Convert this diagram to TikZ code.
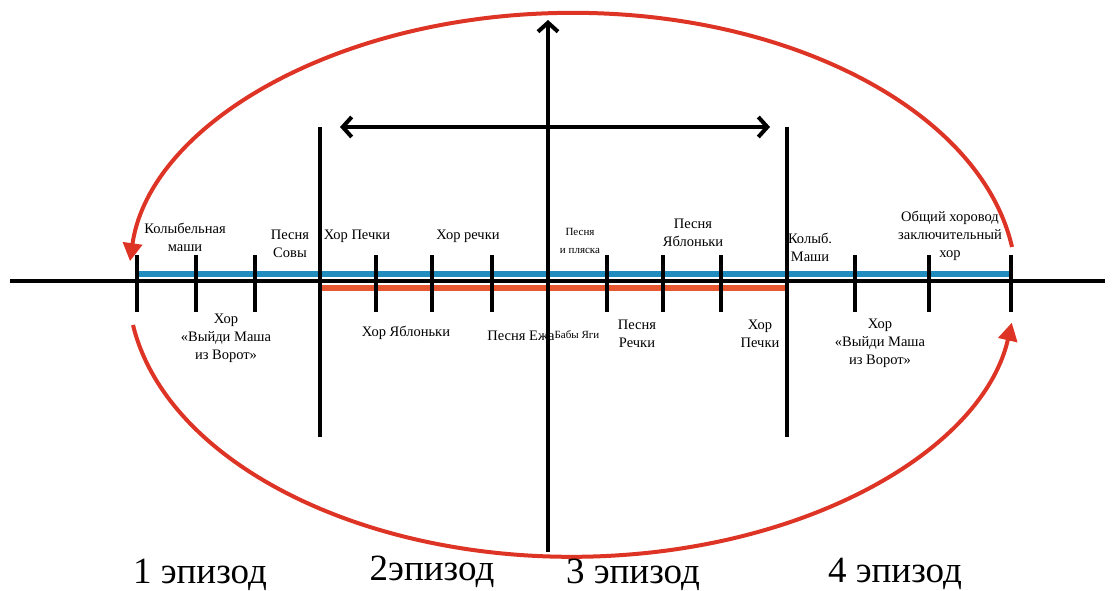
\documentclass[tikz,border=0pt]{standalone}
\usepackage{fontspec}
\setmainfont{Liberation Serif}
\usetikzlibrary{arrows.meta}
\definecolor{ered}{RGB}{222,52,38}
\definecolor{eblue}{RGB}{35,140,190}
\definecolor{eorange}{RGB}{232,88,48}
\begin{document}
\begin{tikzpicture}[x=1pt,y=-1pt,
  axisline/.style={line width=4pt,black},
  tickline/.style={line width=4.5pt,black},
  cyc/.style={line width=4pt,ered,-{Triangle[length=18pt,width=19pt]}},
  barb/.style={-{Straight Barb[length=9pt,width=20pt]}},
  dbarb/.style={{Straight Barb[length=9pt,width=20pt]}-{Straight Barb[length=9pt,width=20pt]}},
  lbl/.style={font=\fontsize{14.5}{18}\selectfont,align=center,inner sep=0pt},
  tiny/.style={font=\fontsize{11}{18}\selectfont,align=center,inner sep=0pt},
  epi/.style={font=\fontsize{37}{40}\selectfont,inner sep=0pt,anchor=base}]
\useasboundingbox[fill=white] (0,0) rectangle (1114,591);
% coordinates
\coordinate (axL) at (10,281);
\coordinate (axR) at (1105,281);
\coordinate (blL) at (137,274);
\coordinate (blR) at (1010,274);
\coordinate (orL) at (320,288);
\coordinate (orR) at (785,288);
\coordinate (vB) at (548,552);
\coordinate (vT) at (548,20);
\coordinate (dL) at (340,127);
\coordinate (dR) at (770,127);
\coordinate (s1T) at (320,127);
\coordinate (s1B) at (320,437);
\coordinate (s2T) at (787,127);
\coordinate (s2B) at (787,437);
\coordinate (upS) at (1012,247);
\coordinate (loS) at (133,325);
% colour lines
\draw[line width=6pt,eblue] (blL) -- (blR);
\draw[line width=6pt,eorange] (orL) -- (orR);
% axis
\draw[axisline] (axL) -- (axR);
\draw[axisline,barb] (vB) -- (vT);
\draw[axisline,dbarb] (dL) -- (dR);
\draw[axisline] (s1T) -- (s1B);
\draw[axisline] (s2T) -- (s2B);
% ticks
\foreach \x in {137,196,255,376,432,492,607,663,721,855,929,1011}
  \draw[tickline] (\x,255) -- (\x,312);
% cycle arrows
\draw[cyc] (upS) arc[start angle=-8, end angle=-175, x radius=444, y radius=272];
\draw[cyc] (loS) arc[start angle=171.5, end angle=8, x radius=444, y radius=272];
% labels above
\node[lbl] (l1) at (185,237) {Колыбельная\\маши};
\node[lbl] (l2) at (290,244) {Песня\\Совы};
\node[lbl] (l3) at (357,236) {Хор Печки};
\node[lbl] (l4) at (468,236) {Хор речки};
\node[tiny] (l5) at (580,241) {Песня\\и пляска};
\node[lbl] (l6) at (693,233) {Песня\\Яблоньки};
\node[lbl] (l7) at (810,247) {Колыб.\\Маши};
\node[lbl] (l8) at (950,236) {Общий хоровод\\заключительный\\хор};
% labels below
\node[lbl] (b1) at (226,338) {Хор\\«Выйди Маша\\из Ворот»};
\node[lbl] (b2) at (406,333) {Хор Яблоньки};
\node[lbl] (b3) at (521,336) {Песня Ежа};
\node[tiny] (b4) at (577,335) {Бабы Яги};
\node[lbl] (b5) at (637,334) {Песня\\Речки};
\node[lbl] (b6) at (760,334) {Хор\\Печки};
\node[lbl] (b7) at (880,343) {Хор\\«Выйди Маша\\из Ворот»};
% episodes
\node[epi] (e1) at (200,583) {1 эпизод};
\node[epi] (e2) at (432,580) {2эпизод};
\node[epi] (e3) at (633,583) {3 эпизод};
\node[epi] (e4) at (895,582) {4 эпизод};
\end{tikzpicture}
\end{document}
